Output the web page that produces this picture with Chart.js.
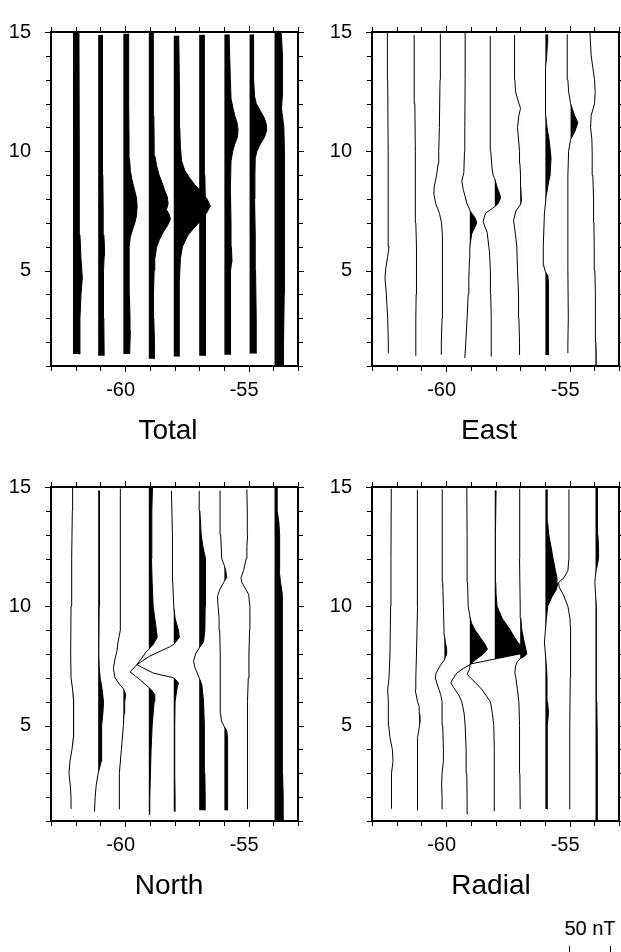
<!DOCTYPE html>
<html>
<head>
<meta charset="utf-8">
<script src="https://cdn.jsdelivr.net/npm/chart.js@4.4.0/dist/chart.umd.min.js"></script>
<style>
  body { margin: 0; background: #fff; width: 621px; height: 952px; position: relative; overflow: hidden;
         font-family: "Liberation Sans", Arial, sans-serif; }
  canvas { position: absolute; }
  .title { position: absolute; font-size: 28px; line-height: 28px; color: #000; white-space: nowrap; transform: translateX(-50%); }
  .scale-label { position: absolute; font-size: 20px; line-height: 20px; color: #000; white-space: nowrap; transform: translateX(-50%); }
  .scale-bar { position: absolute; border-left: 1px solid #000; border-right: 1px solid #000; border-bottom: 1px solid #000; }
</style>
</head>
<body>
<canvas id="total" width="310" height="420" style="left:0;top:0"></canvas>
<canvas id="east" width="300" height="420" style="left:321px;top:0"></canvas>
<canvas id="north" width="310" height="420" style="left:0;top:455px"></canvas>
<canvas id="radial" width="300" height="420" style="left:321px;top:455px"></canvas>

<div class="title" style="left:168px;top:416px">Total</div>
<div class="title" style="left:489px;top:416px">East</div>
<div class="title" style="left:169px;top:871px">North</div>
<div class="title" style="left:491px;top:871px">Radial</div>
<div class="scale-label" style="left:590px;top:918px">50 nT</div>
<div class="scale-bar" style="left:569px;top:946px;width:40px;height:10px"></div>

<script>
// map frame and ticks
const lonMin = -63, lonMax = -53;
const latMin = 1, latMax = 15;
const lonLabels = [-60, -55];
const latLabels = [5, 10, 15];

// track longitudes (baseline of each wiggle) and wiggle scale: 50 nT -> 1.658 deg
const trackLon = [-62.11, -61.09, -60.07, -59.04, -58.03, -57.0, -55.98, -54.96, -53.95];
const degPerNT = 1.658 / 50;

// anomaly along each track: [latitude, nT]
const totalTracks = [
  [[1.5,7.7],[3,8.5],[4,9.8],[4.7,11.4],[5.5,9.8],[6.5,8.5],[10,7.7],[15,7.3]],
  [[1.43,7.3],[3,6.9],[4,6.5],[5,6.5],[5.6,7.3],[6,7.7],[6.5,6.9],[7.5,6.1],[9,5.7],[14.87,5.3]],
  [[1.5,7.7],[2.5,8.5],[3,8.1],[4,7.3],[5,6.9],[6,7.3],[6.4,8.5],[6.7,11],[7,14],[7.3,16],[7.7,16.8],[8.05,16],[8.4,13.5],[8.8,10.5],[9.2,8.5],[9.7,7.5],[10.5,6.9],[12,6.5],[14.93,6.5]],
  [[1.3,7.3],[2,6.9],[3,6.1],[4,5.7],[5,6.5],[5.5,7.3],[6,9.7],[6.3,13],[6.6,17.5],[6.9,23],[7.15,26.4],[7.35,25],[7.55,21.5],[7.8,23.6],[8.1,22.5],[8.35,19.5],[8.7,16],[9,12.6],[9.4,9.5],[9.8,7.5],[10.5,6.5],[11.5,6.1],[13,5.7],[15,5.3]],
  [[1.4,6.5],[3,6.5],[4.5,7],[5.5,8.1],[6,10.6],[6.5,17.5],[7.05,31.7],[7.4,39.8],[7.7,44.7],[8,40.7],[8.3,33.7],[8.6,25.6],[8.9,19],[9.2,13.4],[9.6,9.5],[10.2,8.1],[11,7.3],[12.5,7],[14.84,6.1]],
  [[1.43,7.7],[4,7.3],[6,7.7],[7.5,8.1],[9,6.9],[12,6.5],[14.88,6.1]],
  [[1.47,7.3],[3,7.3],[5,7.7],[5.25,8.5],[5.4,9.3],[6,8.5],[7,8.1],[8.5,7.3],[9.6,8.1],[10,10.2],[10.3,12.6],[10.6,15.9],[10.9,16.7],[11.2,15.4],[11.5,12.6],[11.8,10.6],[12.2,8.1],[13,7.3],[14.9,5.7]],
  [[1.52,8.1],[3,8.1],[5,7.3],[6.5,6.9],[8,6.1],[9,6.5],[9.7,6.9],[10,8.9],[10.3,13],[10.6,18.3],[10.9,21.1],[11.1,20.7],[11.4,17.9],[11.7,13],[12,8.1],[12.3,6.1],[13,4.9],[14.9,4.9]],
  [[1,10.6],[2,11],[4,11.8],[6,11.8],[8,12.2],[10,12.2],[11,11.4],[11.8,8.5],[12.3,9.5],[13,10.2],[14,9.3],[15,8.1]]
];

const eastTracks = [
  [[1.54,-6.9],[2,-6.9],[3,-7.7],[4,-9.3],[4.7,-11],[5.1,-10],[5.6,-7.7],[6,-6.1],[7,-6.9],[10,-7.3],[13,-7.7],[15,-8.1]],
  [[1.43,-4.5],[2,-4.1],[3,-4.1],[4,-3.7],[5,-3.3],[6,-3.3],[7,-4.1],[8,-4.5],[10,-4.9],[12,-5.3],[14.87,-6.1]],
  [[1.48,-4.1],[2,-3.7],[3,-2.8],[4,-2.4],[5,-2],[6,-2.4],[6.5,-2.8],[7,-3.5],[7.4,-6],[7.8,-10.5],[8.2,-12.8],[8.5,-12.5],[9,-9.5],[9.5,-7.5],[10,-6.9],[11,-6.1],[13,-5.3],[14.93,-4.9]],
  [[1.33,-6.1],[2,-4.9],[3,-3.3],[4,-2],[4.7,-1.2],[5.5,-0.4],[5.9,0],[6.1,0.4],[6.55,2.4],[6.8,6],[7,8.5],[7.2,6.5],[7.5,0.4],[7.55,0],[7.8,-3.5],[8.1,-5.7],[8.4,-8],[8.75,-9.8],[9.1,-7.3],[10,-6.5],[11,-6.1],[13,-5.7],[15,-5.7]],
  [[1.4,-4.1],[2,-4.1],[3,-4.5],[4,-4.9],[5,-5.3],[5.8,-6.5],[6.6,-9.3],[7.05,-14.2],[7.4,-11.4],[7.6,-3.3],[7.68,0],[7.8,4],[8,6.5],[8.1,6.9],[8.3,5],[8.5,2.8],[8.75,0.8],[8.85,0],[9,-2],[9.3,-3.3],[10,-4.9],[12,-5.3],[14.84,-5.7]],
  [[1.46,-0.8],[2,-0.8],[3,-1.6],[4,-2],[5,-3.3],[6,-4.1],[6.5,-5.7],[7.1,-8.1],[7.5,-5.3],[7.75,0],[7.9,1.5],[8.5,0.8],[9,0.4],[9.5,-0.4],[10,-0.8],[11,-3.3],[11.5,-1.6],[11.8,0.4],[12.1,-2.4],[12.5,-5.7],[13,-6.5],[14.88,-6.9]],
  [[1.46,4.1],[2,4.1],[3,3.7],[4.5,3.7],[4.8,2.8],[4.95,0],[5.2,-2],[5.5,-2.8],[6,-2.4],[7.4,-1.2],[7.8,0],[8.1,0.8],[8.75,4.1],[9,5.7],[9.7,6.9],[10,6.1],[10.5,4.5],[11,2],[11.5,0.4],[12,0],[13,0],[13.5,0.4],[14,1.6],[14.5,2.4],[14.9,2.8]],
  [[1.54,-3.3],[2,-3.3],[3,-2.8],[5,-3.3],[7,-3.3],[9,-3.3],[10,-2.4],[10.5,0],[10.8,4.9],[11.2,8.9],[11.5,4.9],[12,0],[12.5,-2.4],[13,-3.3],[13.5,-4.1],[14.9,-4.1]],
  [[1,1.2],[1.5,0.8],[2,0.4],[3,0],[4,-0.4],[5,-0.8],[6,-1.6],[7,-2],[8,-2.4],[9,-3.3],[10,-4.1],[10.5,-4.5],[11,-6.1],[11.5,-5.3],[12,-1.2],[12.5,-0.4],[13,-1.2],[13.5,-3.3],[14,-5.3],[15,-6.9]]
];

const northTracks = [
  [[1.52,-2],[2,-2.4],[2.5,-3.3],[3,-4.9],[3.5,-3.7],[4,-1.2],[4.5,0.4],[5,0.8],[6,0.8],[6.5,-0.4],[7,-2.4],[8,-2.8],[10,-2.4],[12,-1.6],[14,-0.8],[15,-0.4]],
  [[1.4,-4.5],[2,-3.7],[2.5,-2.4],[3,0],[3.5,3.7],[4,4.5],[4.5,4.1],[5,4.1],[5.5,5.7],[6,6.5],[6.5,4.9],[7,2.4],[7.5,1.2],[8,0.8],[10,1.2],[12,1.2],[14,1.6],[14.85,2]],
  [[1.5,-4.5],[2,-4.9],[3,-4.9],[4,-2.4],[5,0],[5.5,0.8],[6,1.6],[6.3,2.8],[6.55,0],[6.7,-4.1],[7,-10.2],[7.4,-12.2],[7.8,-10.2],[8.1,-8],[8.5,-6.5],[9,-3.7],[10,-3.3],[11,-3.7],[13,-3.7],[14.93,-4.1]],
  [[1.27,0.8],[2,1.2],[3,2],[4,2.8],[5,4.1],[6,6.5],[6.3,7.3],[6.5,3],[6.6,0],[6.9,-10],[7.25,-23],[7.5,-16],[7.8,-9],[8.1,-3],[8.2,0],[8.4,5.3],[8.7,10.2],[9,9.3],[9.5,7.3],[10,5.3],[11,4.1],[12,3.3],[14,3.7],[15,4.5]],
  [[1.4,2],[2,1.6],[3,1.2],[5,1.2],[6,1.6],[6.5,3.7],[6.8,5.7],[7,0],[7.2,-25],[7.55,-45],[7.9,-30],[8.3,-5],[8.4,0],[8.7,6.9],[9,5.7],[9.5,1.6],[10,0],[11,-1.2],[13,-1.6],[14.84,-2.8]],
  [[1.45,7.3],[2,7.3],[3,6.9],[4,6.5],[5,6.1],[6,5.3],[6.7,3.3],[7,0],[7.4,-4.9],[7.7,-6.9],[8,-4.5],[8.25,0],[8.5,5.3],[9,6.9],[10,7.3],[11,7.7],[11.5,8.1],[12,7.3],[12.5,4.5],[13,2.4],[14,0.8],[14.84,0]],
  [[1.45,4.1],[4,4.1],[4.5,3.7],[4.8,2.8],[4.95,0],[5.2,-3.7],[5.5,-4.5],[7,-4.9],[8,-5.3],[9,-5.7],[9.5,-6.5],[10,-7.7],[10.4,-8.5],[10.7,-5.7],[11.05,0],[11.2,2.8],[11.5,1.6],[11.7,0],[12,-3.3],[13,-4.5],[14,-5.3],[14.85,-5.3]],
  [[1.5,-2.8],[5,-2.8],[6,-2.4],[7,-1.6],[8,-0.8],[9,0],[10,0.4],[10.5,-1.2],[10.7,-4.5],[11,-9.3],[11.2,-10.6],[11.5,-7.3],[12,-4.1],[12.5,-3.3],[13,-2.4],[14,-2.8],[14.9,-3.3]],
  [[1,11],[2,10.6],[3,9.8],[10,9.8],[10.5,9.3],[11,7.3],[11.5,5.7],[12,5.7],[12.5,6.5],[13,6.5],[13.5,5.3],[14,3.3],[15,3.3]]
];

const radialTracks = [
  [[1.52,-2.8],[2,-3.3],[3,-2.8],[3.5,-1.2],[4,-2],[4.5,-4.9],[5,-6.5],[6,-6.9],[6.5,-7.7],[7,-6.1],[8,-4.9],[10,-4.1],[12,-3.7],[14.93,-3.3]],
  [[1.45,-2.4],[2,-2],[3,-1.6],[4,-2.4],[4.5,-2],[4.9,0],[5.2,1.2],[5.5,0.8],[5.8,0],[6,-2],[6.5,-4.9],[7,-4.1],[8,-3.3],[10,-2],[12,-2],[14.87,-2.4]],
  [[1.5,-2.4],[2,-2.8],[2.5,-3.3],[3,-2.8],[3.5,-1.2],[4,-1.2],[5,-2],[6,-2.8],[6.3,-4.5],[6.7,-8.5],[7,-11],[7.2,-10.2],[7.5,-5.3],[7.75,0],[8,2.8],[8.2,2.8],[8.5,1.2],[8.8,0],[9,-0.4],[10,-1.2],[11,-2],[13,-2.4],[14.9,-2.8]],
  [[1.3,-2.4],[2,-3.3],[3,-3.7],[4,-4.5],[5,-5.7],[5.5,-6.9],[6,-9.8],[6.3,-13.8],[6.6,-19.9],[6.8,-23.2],[7,-19.9],[7.2,-15.9],[7.4,-7.7],[7.55,0],[7.8,8.5],[8,16.7],[8.2,21.5],[8.4,18.7],[8.7,12.6],[9,6.5],[9.3,2],[9.6,0],[10,-2],[11,-2.8],[13,-3.3],[15,-3.7]],
  [[1.42,0],[3,-0.4],[4,-0.8],[5,-1.2],[5.5,-2.8],[6,-5.3],[6.2,-9.3],[6.5,-15.4],[6.8,-23.6],[7,-29.7],[7.15,-33.7],[7.35,-31],[7.58,-30],[7.79,0],[8.05,37.4],[8.2,35.4],[8.5,28],[8.7,24],[9,19.1],[9.2,15],[9.5,8.9],[10,2.8],[10.5,1.6],[11,1.2],[13,0.8],[14.85,1.6]],
  [[1.5,0],[3,-0.4],[5,-0.8],[6,-1.6],[6.5,-3.3],[7,-5.3],[7.2,-6.5],[7.5,-5.7],[7.7,-3.3],[7.8,0],[7.9,4.9],[8,8.1],[8.2,6.9],[8.5,4.9],[9,2],[9.5,0.8],[10,0],[12,-0.8],[14,-0.8],[14.93,-0.4]],
  [[1.5,2.8],[2,2],[4,2],[5,2.8],[5.5,3.7],[6,2.8],[7,2],[7.5,1.2],[8,0],[8.5,-1.2],[9,0],[9.5,1.2],[10,2.8],[10.4,8.1],[10.7,13.4],[10.95,15],[11.2,14.2],[11.5,12.2],[12,9.3],[12.5,6.9],[13,4.1],[13.5,2.8],[14,2],[14.9,2.4]],
  [[1.5,-1.2],[3,-1.2],[5,-0.8],[7,-0.4],[9,0],[9.5,-0.8],[10,-3.3],[10.5,-9],[10.8,-14],[11,-14.6],[11.2,-8],[11.5,-3.3],[12,-2],[14.9,-2]],
  [[1,2.8],[2,2.4],[4,2],[6,1.6],[8,1.2],[10,0.8],[10.5,0],[11,-0.8],[11.2,-0.4],[11.5,0.8],[12,3.7],[12.5,3.7],[13,2.8],[14,2],[15,2.8]]
];

// frame with outward ticks on all four sides
const framePlugin = {
  id: 'gmtFrame',
  afterDraw(chart) {
    const { ctx, chartArea: a, scales: { x, y } } = chart;
    ctx.save();
    ctx.strokeStyle = '#000';
    ctx.lineWidth = 1;
    ctx.beginPath();
    for (let lon = lonMin; lon <= lonMax; lon++) {
      const px = Math.round(x.getPixelForValue(lon)) + 0.5;
      const len = lonLabels.includes(lon) ? 6 : 5;
      ctx.moveTo(px, a.top); ctx.lineTo(px, a.top - len);
      ctx.moveTo(px, a.bottom); ctx.lineTo(px, a.bottom + len);
    }
    for (let lat = latMin; lat <= latMax; lat++) {
      const py = Math.round(y.getPixelForValue(lat)) + 0.5;
      const len = latLabels.includes(lat) ? 6 : 5;
      ctx.moveTo(a.left, py); ctx.lineTo(a.left - len, py);
      ctx.moveTo(a.right, py); ctx.lineTo(a.right + len, py);
    }
    ctx.stroke();
    ctx.lineWidth = 2;
    ctx.strokeRect(a.left, a.top, a.right - a.left, a.bottom - a.top);
    ctx.restore();
  }
};

function buildDatasets(tracks) {
  const sets = [];
  tracks.forEach((knots, i) => {
    const base = trackLon[i];
    const first = knots[0][0];
    const last = knots[knots.length - 1][0];
    // the wiggle itself
    sets.push({
      data: knots.map(([lat, v]) => ({ x: base + v * degPerNT, y: lat })),
      showLine: true, borderColor: '#000', borderWidth: 1, pointRadius: 0,
      tension: 0, fill: false, order: 0
    });
    // positive part, filled black against the track line
    sets.push({
      data: [{ x: base, y: first }]
        .concat(knots.map(([lat, v]) => ({ x: base + Math.max(v, 0) * degPerNT, y: lat })))
        .concat([{ x: base, y: last }]),
      showLine: true, borderColor: 'rgba(0,0,0,0)', borderWidth: 0, pointRadius: 0,
      backgroundColor: '#000', tension: 0, fill: 'shape', order: 1
    });
  });
  return sets;
}

const tickFont = { family: 'Liberation Sans', size: 20 };

function makePanel(id, tracks, padRight) {
  new Chart(document.getElementById(id), {
    type: 'scatter',
    data: { datasets: buildDatasets(tracks) },
    options: {
      responsive: false,
      animation: false,
      layout: { padding: { left: 0, top: 19, right: padRight, bottom: 0 } },
      plugins: { legend: { display: false }, tooltip: { enabled: false } },
      events: [],
      scales: {
        x: {
          type: 'linear', min: lonMin, max: lonMax,
          afterBuildTicks: s => { s.ticks = lonLabels.map(v => ({ value: v })); },
          afterFit: s => { s.height = 54; },
          grid: { display: false, drawTicks: false },
          border: { display: false },
          ticks: { padding: 12, labelOffset: -4.5, color: '#000', font: tickFont,
                   maxRotation: 0, autoSkip: false, callback: v => String(v) }
        },
        y: {
          type: 'linear', min: latMin, max: latMax,
          afterBuildTicks: s => { s.ticks = latLabels.map(v => ({ value: v })); },
          afterFit: s => { s.width = 51; },
          grid: { display: false, drawTicks: false },
          border: { display: false },
          ticks: { padding: 20, color: '#000', font: tickFont, autoSkip: false,
                   callback: v => String(v) }
        }
      }
    },
    plugins: [framePlugin]
  });
}

makePanel('total', totalTracks, 12);
makePanel('east', eastTracks, 2);
makePanel('north', northTracks, 12);
makePanel('radial', radialTracks, 2);
</script>
</body>
</html>
